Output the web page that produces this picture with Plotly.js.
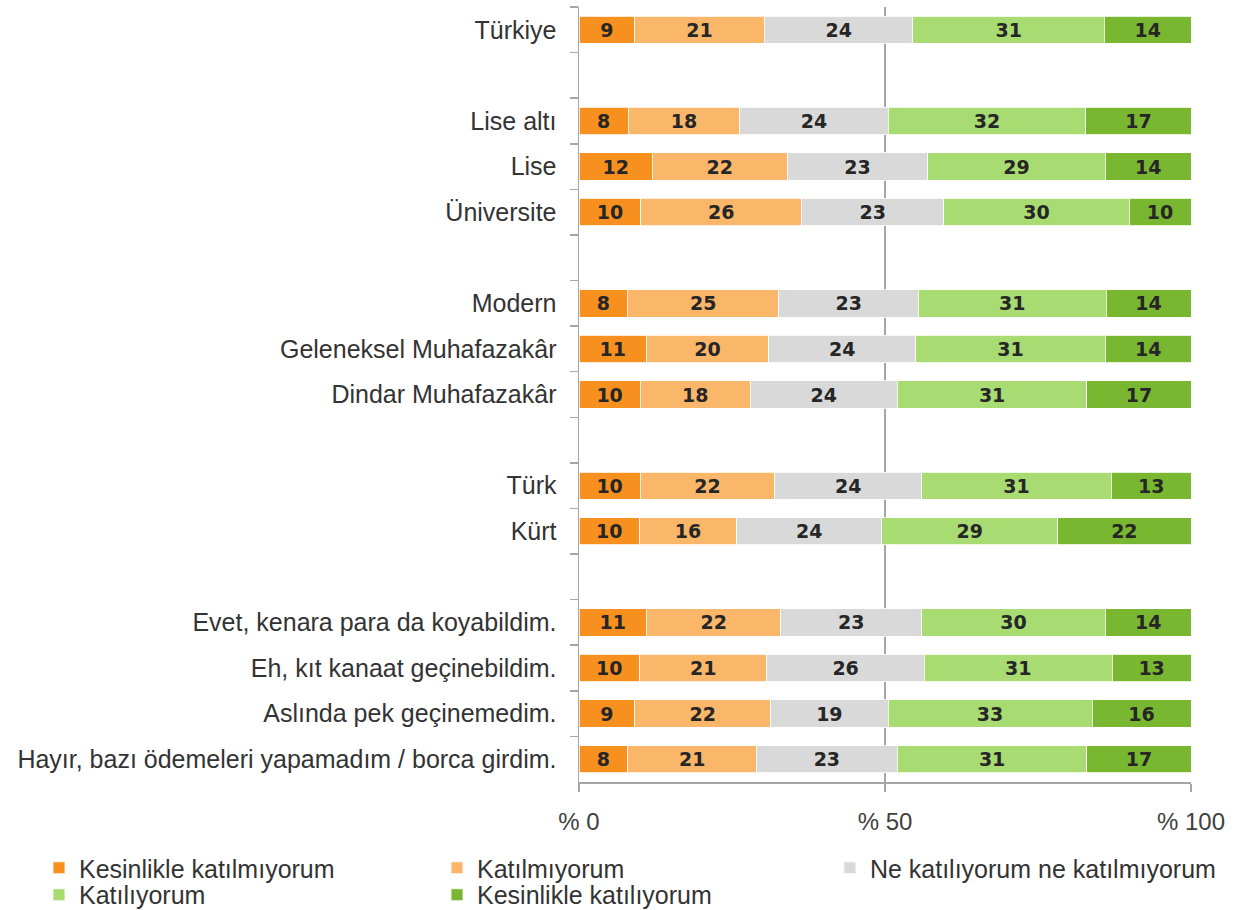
<!DOCTYPE html>
<html>
<head>
<meta charset="utf-8">
<script src="https://cdn.plot.ly/plotly-3.0.1.min.js"></script>
<style>html,body{margin:0;padding:0;background:#fff;}#chart{width:1240px;height:910px;}</style>
</head>
<body>
<div id="chart"></div>
<script>
// Categories (blank strings are spacer rows between groups)
var categories = [
  "Türkiye", " ",
  "Lise altı", "Lise", "Üniversite", "  ",
  "Modern", "Geleneksel Muhafazakâr", "Dindar Muhafazakâr", "   ",
  "Türk", "Kürt", "    ",
  "Evet, kenara para da koyabildim.", "Eh, kıt kanaat geçinebildim.",
  "Aslında pek geçinemedim.", "Hayır, bazı ödemeleri yapamadım / borca girdim."
];
var seriesNames = ["Kesinlikle katılmıyorum", "Katılmıyorum", "Ne katılıyorum ne katılmıyorum", "Katılıyorum", "Kesinlikle katılıyorum"];
var kesinlikleKatilmiyorum = [9, null, 8, 12, 10, null, 8, 11, 10, null, 10, 10, null, 11, 10, 9, 8];
var katilmiyorum           = [21, null, 18, 22, 26, null, 25, 20, 18, null, 22, 16, null, 22, 21, 22, 21];
var neNe                   = [24, null, 24, 23, 23, null, 23, 24, 24, null, 24, 24, null, 23, 26, 19, 23];
var katiliyorum            = [31, null, 32, 29, 30, null, 31, 31, 31, null, 31, 29, null, 30, 31, 33, 31];
var kesinlikleKatiliyorum  = [14, null, 17, 14, 10, null, 14, 14, 17, null, 13, 22, null, 14, 13, 16, 17];
var xTickVals = [0, 50, 100];
var xTickText = ["% 0", "% 50", "% 100"];
var colors = ["#F7901E", "#FAB76A", "#D9D9D9", "#A8DB72", "#7AB731"];

// legend placement (one small legend per entry, laid out in 3 columns / 2 rows)
var legendIds = ["legend", "legend2", "legend3", "legend4", "legend5"];
var legendX = [-0.8824, -0.232, 0.410, -0.8824, -0.232];
var legendY = [-0.111, -0.111, -0.111, -0.1458, -0.1458];

var seriesValues = [kesinlikleKatilmiyorum, katilmiyorum, neNe, katiliyorum, kesinlikleKatiliyorum];
var traces = seriesValues.map(function (vals, i) {
  return {
    type: "bar",
    orientation: "h",
    name: seriesNames[i],
    legend: legendIds[i],
    y: categories,
    x: vals,
    text: vals.map(function (v) { return v === null ? "" : String(v); }),
    textposition: "inside",
    insidetextanchor: "middle",
    textangle: 0,
    constraintext: "none",
    textfont: { family: "DejaVu Sans", size: 19, color: "#262626", weight: "bold" },
    marker: { color: colors[i], line: { color: "#ffffff", width: 0.8 } },
    hoverinfo: "skip"
  };
});

var layout = {
  width: 1240,
  height: 910,
  barmode: "stack",
  barnorm: "percent",
  bargap: 0.4,
  paper_bgcolor: "#ffffff",
  plot_bgcolor: "#ffffff",
  margin: { l: 579, r: 49, t: 7, b: 128, autoexpand: false },
  font: { family: "Liberation Sans", size: 24, color: "#404040" },
  xaxis: {
    range: [0, 100],
    tickmode: "array",
    tickvals: xTickVals,
    ticktext: xTickText,
    showgrid: true,
    gridcolor: "#A6A6A6",
    gridwidth: 1.5,
    showline: true,
    linecolor: "#A6A6A6",
    linewidth: 1.5,
    ticks: "outside",
    ticklen: 8,
    tickcolor: "#A6A6A6",
    tickwidth: 1.5,
    ticklabelstandoff: 10,
    tickfont: { family: "Liberation Sans", size: 24, color: "#404040" },
    zeroline: false,
    fixedrange: true
  },
  yaxis: {
    type: "category",
    categoryorder: "array",
    categoryarray: categories,
    autorange: "reversed",
    tickson: "boundaries",
    ticks: "outside",
    ticklen: 8,
    tickcolor: "#A6A6A6",
    tickwidth: 1.5,
    showline: true,
    linecolor: "#A6A6A6",
    linewidth: 1.5,
    showgrid: false,
    ticklabelstandoff: 16,
    tickfont: { family: "Liberation Sans", size: 25, color: "#333333" },
    fixedrange: true
  },
  showlegend: true
};
legendIds.forEach(function (id, i) {
  layout[id] = {
    orientation: "v",
    x: legendX[i],
    xanchor: "left",
    y: legendY[i],
    yanchor: "middle",
    bgcolor: "rgba(0,0,0,0)",
    borderwidth: 0,
    font: { family: "Liberation Sans", size: 25, color: "#333333" },
    itemclick: false,
    itemdoubleclick: false
  };
});

Plotly.newPlot("chart", traces, layout, { displayModeBar: false, staticPlot: true });
</script>
</body>
</html>
